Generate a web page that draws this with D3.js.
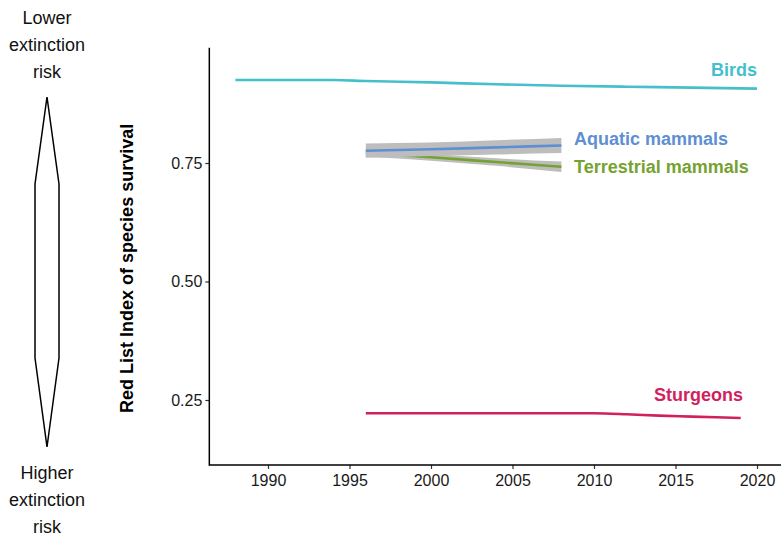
<!DOCTYPE html>
<html>
<head>
<meta charset="utf-8">
<script src="https://cdn.jsdelivr.net/npm/d3@7"></script>
<style>
  html, body { margin: 0; padding: 0; background: #fff; }
  svg { display: block; font-family: "Liberation Sans", Arial, sans-serif; }
</style>
</head>
<body>
<svg id="chart" width="781" height="537"></svg>
<script>
// Red List Index trends by group
const birdsYears   = [1988, 1994, 1996, 2000, 2004, 2008, 2012, 2016, 2020];
const birdsValues  = [0.925, 0.925, 0.923, 0.920, 0.916, 0.913, 0.911, 0.909, 0.907];

const aquaticYears = [1996, 2000, 2004, 2008];
const aquaticValues = [0.776, 0.779, 0.783, 0.787];
const aquaticSE    = [0.015, 0.014, 0.015, 0.016];

const terrYears    = [1996, 2000, 2004, 2008];
const terrValues   = [0.771, 0.762, 0.752, 0.742];
const terrSE       = [0.008, 0.007, 0.008, 0.011];

const sturgYears   = [1996, 2000, 2005, 2010, 2012, 2014, 2016, 2019];
const sturgValues  = [0.222, 0.222, 0.222, 0.222, 0.220, 0.217, 0.215, 0.212];

const xTicks = [1990, 1995, 2000, 2005, 2010, 2015, 2020];
const yTicks = [0.25, 0.50, 0.75];
const xDomain = [1986.4, 2021.6];
const yDomain = [0.113, 0.993];

const colors = {
  birds: "#45bfcc",
  aquatic: "#5e8fd3",
  terr: "#76a232",
  sturg: "#d21f5e",
  band: "#bdbdbd"
};

const svg = d3.select("#chart");

const x = d3.scaleLinear().domain([1990, 2020]).range([268, 757]);
const y = d3.scaleLinear().domain([0.25, 0.75]).range([400, 163]);

const line = d3.line().x(d => x(d[0])).y(d => y(d[1])).curve(d3.curveMonotoneX);
const area = d3.area()
  .x(d => x(d[0])).y0(d => y(d[1] - d[2])).y1(d => y(d[1] + d[2]))
  .curve(d3.curveMonotoneX);

const zip2 = (a, b) => a.map((v, i) => [v, b[i]]);
const zip3 = (a, b, c) => a.map((v, i) => [v, b[i], c[i]]);

// Axes
const xAxis = d3.axisBottom(x).tickValues(xTicks).tickFormat(d3.format("d")).tickSize(4).tickSizeOuter(0);
const yAxis = d3.axisLeft(y).tickValues(yTicks).tickFormat(d3.format(".2f")).tickSize(4).tickSizeOuter(0);

const gx = svg.append("g").attr("transform", `translate(0,${y(yDomain[0])})`).call(xAxis);
gx.select(".domain").remove();
gx.append("line")
  .attr("x1", x(xDomain[0])).attr("x2", x(xDomain[1]))
  .attr("stroke", "#000").attr("stroke-width", 1.5);
gx.selectAll(".tick line").attr("stroke", "#333").attr("stroke-width", 1.2);
gx.selectAll(".tick text").attr("fill", "#1a1a1a").attr("font-size", 16).attr("dy", "0.9em")
  .attr("font-family", "Liberation Sans, Arial, sans-serif");

const gy = svg.append("g").attr("transform", `translate(${x(xDomain[0])},0)`).call(yAxis);
gy.select(".domain").remove();
gy.append("line")
  .attr("y1", y(yDomain[1])).attr("y2", y(yDomain[0]) + 0.75)
  .attr("stroke", "#000").attr("stroke-width", 1.5);
gy.selectAll(".tick line").attr("stroke", "#333").attr("stroke-width", 1.2);
gy.selectAll(".tick text").attr("fill", "#1a1a1a").attr("font-size", 16).attr("x", -7)
  .attr("font-family", "Liberation Sans, Arial, sans-serif");

// Y axis title
svg.append("text")
  .attr("transform", `translate(133,${(y(yDomain[0]) + y(yDomain[1])) / 2 + 12}) rotate(-90)`)
  .attr("text-anchor", "middle")
  .attr("font-size", 18).attr("font-weight", "bold").attr("fill", "#000")
  .text("Red List Index of species survival");

// Series
const plot = svg.append("g").attr("fill", "none").attr("stroke-width", 2.6).attr("stroke-linecap", "butt");

plot.append("path").datum(zip3(terrYears, terrValues, terrSE))
  .attr("d", area).attr("fill", colors.band).attr("stroke", "none");
plot.append("path").datum(zip2(terrYears, terrValues))
  .attr("d", line).attr("stroke", colors.terr);

plot.append("path").datum(zip3(aquaticYears, aquaticValues, aquaticSE))
  .attr("d", area).attr("fill", colors.band).attr("stroke", "none");
plot.append("path").datum(zip2(aquaticYears, aquaticValues))
  .attr("d", line).attr("stroke", colors.aquatic);

plot.append("path").datum(zip2(birdsYears, birdsValues))
  .attr("d", line).attr("stroke", colors.birds);
plot.append("path").datum(zip2(sturgYears, sturgValues))
  .attr("d", line).attr("stroke", colors.sturg);

// Direct labels
const labels = [
  { text: "Birds", color: colors.birds, x: 757, y: 76, anchor: "end" },
  { text: "Aquatic mammals", color: colors.aquatic, x: 574, y: 145, anchor: "start" },
  { text: "Terrestrial mammals", color: colors.terr, x: 574, y: 173, anchor: "start" },
  { text: "Sturgeons", color: colors.sturg, x: 743, y: 401, anchor: "end" }
];
svg.append("g").selectAll("text").data(labels).join("text")
  .attr("x", d => d.x).attr("y", d => d.y)
  .attr("text-anchor", d => d.anchor)
  .attr("font-size", 18).attr("font-weight", "bold")
  .attr("fill", d => d.color)
  .text(d => d.text);

// Risk indicator on the left
const cx = 47;
const spindle = [[cx, 97], [cx + 12, 184], [cx + 12, 358], [cx, 447], [cx - 12, 358], [cx - 12, 184]];
svg.append("path")
  .attr("d", d3.line()(spindle) + "Z")
  .attr("fill", "none").attr("stroke", "#000").attr("stroke-width", 1.5)
  .attr("stroke-linejoin", "miter");

const topLines = ["Lower", "extinction", "risk"];
const bottomLines = ["Higher", "extinction", "risk"];
svg.append("g").selectAll("text").data(topLines).join("text")
  .attr("x", cx).attr("y", (d, i) => 24 + i * 27)
  .attr("text-anchor", "middle").attr("font-size", 18).attr("fill", "#111")
  .text(d => d);
svg.append("g").selectAll("text").data(bottomLines).join("text")
  .attr("x", cx).attr("y", (d, i) => 479 + i * 27)
  .attr("text-anchor", "middle").attr("font-size", 18).attr("fill", "#111")
  .text(d => d);
</script>
</body>
</html>
